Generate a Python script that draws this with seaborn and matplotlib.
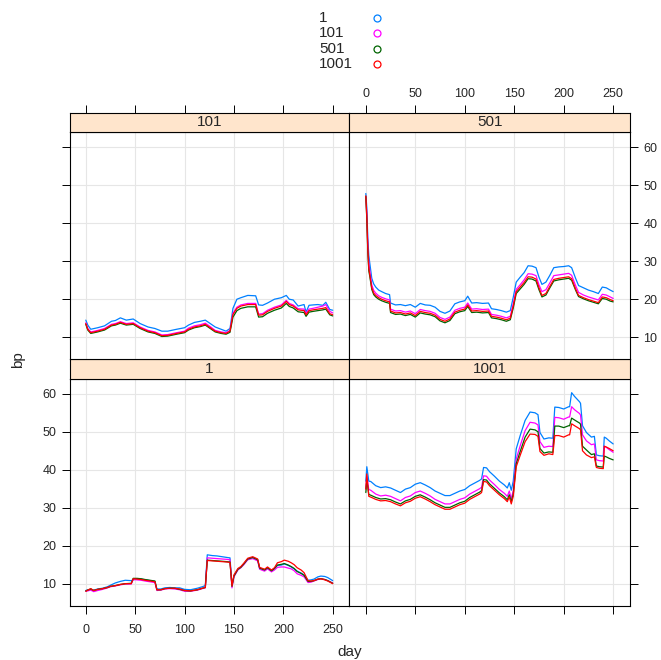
import pandas as pd
import seaborn as sns
import matplotlib.pyplot as plt
from matplotlib.lines import Line2D

# groups and panels
series = ['1', '101', '501', '1001']
colors = ['#0080FF', '#FF00FF', '#006400', '#FF0000']

# panel "1" (bottom left)
days_p1 = [0, 2, 5, 8, 12, 17, 22, 25, 30, 35, 40, 46, 48, 52, 56, 60, 65, 70, 72, 76,
           80, 85, 90, 95, 100, 106, 113, 118, 121, 123, 128, 133, 138, 143, 146, 148, 150, 154, 157, 160,
           164, 169, 174, 176, 181, 184, 188, 191, 194, 198, 201, 205, 208, 211, 214, 218, 221, 225, 228, 231,
           235, 238, 242, 245, 250]
p1_s1 = [8.2, 8.4, 8.5, 8.3, 8.6, 8.8, 9.2, 9.6, 10.2, 10.6, 10.9, 10.8, 11.0, 11.3, 11.2, 11.0, 10.8, 10.6, 8.6, 8.6,
         8.9, 9.0, 8.9, 8.9, 8.5, 8.4, 8.8, 9.2, 9.5, 17.6, 17.4, 17.3, 17.1, 16.9, 16.8, 9.6, 12.0, 13.8, 14.4, 15.2,
         16.5, 16.8, 16.3, 14.1, 13.6, 14.2, 13.4, 14.0, 14.8, 14.9, 15.2, 14.8, 14.4, 13.9, 13.3, 12.8, 12.3, 10.9, 11.0, 11.2,
         11.8, 12.0, 11.9, 11.6, 10.8]
p1_s101 = [8.0, 8.1, 8.3, 7.9, 8.2, 8.5, 8.9, 9.2, 9.4, 9.7, 9.9, 9.9, 11.1, 11.0, 10.9, 10.7, 10.5, 10.3, 8.2, 8.3,
           8.6, 8.7, 8.6, 8.4, 8.0, 8.0, 8.3, 8.7, 8.9, 16.8, 16.7, 16.6, 16.5, 16.4, 16.3, 8.9, 11.8, 13.6, 14.2, 15.0,
           16.3, 16.6, 16.0, 13.8, 13.3, 13.9, 13.1, 13.6, 14.3, 14.4, 14.4, 14.1, 13.9, 13.4, 12.6, 12.2, 11.8, 10.3, 10.4, 10.7,
           11.1, 11.3, 11.1, 10.8, 10.2]
p1_s501 = [8.1, 8.3, 8.6, 8.2, 8.5, 8.7, 9.0, 9.3, 9.5, 9.8, 10.0, 10.1, 11.4, 11.4, 11.3, 11.1, 10.9, 10.7, 8.4, 8.4,
           8.7, 8.8, 8.8, 8.5, 8.2, 8.1, 8.4, 8.8, 9.0, 16.2, 16.1, 16.0, 15.9, 15.8, 15.7, 9.3, 12.0, 13.8, 14.3, 15.2,
           16.5, 16.9, 16.3, 14.1, 13.6, 14.2, 13.4, 14.0, 14.9, 15.1, 15.3, 14.9, 14.5, 14.0, 13.2, 12.7, 12.2, 10.6, 10.6, 10.8,
           11.2, 11.3, 11.1, 10.8, 10.1]
p1_s1001 = [8.0, 8.3, 8.7, 8.2, 8.5, 8.7, 9.0, 9.3, 9.5, 9.8, 10.0, 10.0, 11.3, 11.2, 11.1, 10.9, 10.7, 10.5, 8.4, 8.4,
            8.7, 8.8, 8.8, 8.6, 8.2, 8.1, 8.4, 8.8, 9.0, 16.1, 16.0, 15.9, 15.8, 15.7, 15.6, 9.4, 12.3, 14.0, 14.5, 15.4,
            16.7, 17.1, 16.5, 14.3, 13.8, 14.4, 13.6, 14.2, 15.5, 15.8, 16.2, 15.9, 15.5, 15.0, 14.2, 13.6, 12.9, 10.8, 10.7, 10.8,
            11.2, 11.3, 11.0, 10.7, 10.0]

# panel "1001" (bottom right)
days_p1001 = [0, 1, 3, 5, 10, 15, 20, 25, 30, 35, 40, 45, 50, 55, 60, 65, 70, 75, 80, 85,
              90, 95, 100, 105, 110, 115, 117, 119, 122, 125, 130, 135, 140, 143, 145, 147, 149, 152, 156, 161,
              166, 171, 174, 176, 180, 185, 189, 191, 195, 200, 205, 206, 208, 211, 216, 217, 219, 223, 228, 231,
              233, 236, 240, 241, 243, 246, 250]
p1001_s1 = [37.0, 40.8, 37.0, 36.9, 35.8, 35.3, 35.5, 35.2, 34.6, 34.0, 34.9, 35.3, 36.2, 36.6, 36.0, 35.3, 34.4, 33.8, 33.2, 33.2,
            33.8, 34.4, 34.8, 35.8, 36.5, 37.2, 37.6, 40.6, 40.5, 39.5, 38.3, 37.0, 36.0, 35.2, 36.6, 34.6, 37.0, 45.5, 49.0, 53.0,
            55.2, 55.0, 54.5, 49.8, 48.1, 48.4, 48.3, 56.5, 56.4, 56.0, 56.6, 56.6, 60.3, 59.3, 57.9, 57.5, 51.6, 49.8, 48.6, 48.8,
            43.9, 43.7, 43.6, 48.6, 48.3, 47.6, 46.8]
p1001_s101 = [35.0, 38.3, 34.8, 34.6, 33.6, 33.1, 33.3, 33.0, 32.4, 31.8, 32.7, 33.1, 34.0, 34.4, 33.8, 33.1, 32.2, 31.6, 31.0, 31.0,
              31.6, 32.2, 32.6, 33.6, 34.3, 35.0, 35.4, 38.4, 38.3, 37.3, 36.1, 34.8, 33.8, 33.0, 34.4, 32.4, 34.5, 42.8, 46.3, 50.3,
              52.5, 52.3, 51.8, 47.4, 45.9, 46.2, 46.1, 53.8, 53.7, 53.3, 53.9, 53.9, 56.6, 55.8, 54.8, 54.4, 49.2, 47.6, 46.6, 46.8,
              42.6, 42.4, 42.3, 46.2, 45.9, 45.3, 44.6]
p1001_s501 = [34.0, 37.2, 33.5, 33.3, 32.7, 32.3, 32.4, 32.1, 31.5, 31.0, 31.8, 32.2, 33.0, 33.4, 32.8, 32.1, 31.3, 30.7, 30.1, 30.1,
              30.7, 31.3, 31.7, 32.7, 33.4, 34.1, 34.5, 37.4, 37.3, 36.3, 35.1, 33.9, 32.9, 32.1, 33.4, 31.6, 33.6, 41.6, 44.8, 48.6,
              50.7, 50.5, 50.0, 45.6, 44.4, 44.7, 44.6, 51.5, 51.5, 51.1, 51.6, 51.6, 53.6, 53.1, 52.3, 52.0, 46.2, 45.2, 44.0, 44.2,
              41.0, 40.8, 40.7, 43.6, 43.4, 43.0, 42.6]
p1001_s1001 = [34.9, 38.9, 33.0, 32.8, 32.2, 31.8, 31.9, 31.6, 31.0, 30.5, 31.3, 31.7, 32.5, 32.9, 32.3, 31.6, 30.8, 30.2, 29.6, 29.6,
               30.2, 30.8, 31.2, 32.2, 32.9, 33.6, 34.0, 36.9, 36.8, 35.8, 34.6, 33.4, 32.4, 31.6, 32.9, 31.0, 33.0, 40.8, 43.8, 47.4,
               49.4, 49.3, 48.8, 44.8, 43.8, 44.2, 44.0, 49.0, 49.0, 48.6, 49.2, 49.2, 52.1, 51.6, 50.8, 50.5, 45.0, 43.9, 43.2, 43.4,
               40.6, 40.4, 40.3, 46.2, 46.0, 45.6, 45.0]

# panel "101" (top left)
days_p101 = [0, 2, 5, 12, 19, 26, 30, 35, 41, 48, 55, 63, 70, 77, 83, 92, 100, 104, 110, 116,
             121, 126, 131, 137, 142, 146, 149, 153, 157, 164, 172, 175, 179, 184, 191, 198, 203, 206, 210, 215,
             221, 223, 226, 230, 235, 240, 243, 247, 250]
p101_s1 = [14.5, 13.2, 12.1, 12.5, 13.0, 14.2, 14.4, 15.1, 14.5, 14.8, 13.6, 12.7, 12.3, 11.6, 11.6, 12.1, 12.5, 13.2, 13.9, 14.2,
           14.5, 13.6, 12.7, 12.1, 11.6, 12.3, 17.6, 20.0, 20.4, 21.0, 20.9, 18.5, 18.4, 19.0, 20.0, 20.4, 21.0, 20.0, 19.8, 18.2,
           18.6, 16.6, 18.4, 18.5, 18.6, 18.4, 19.2, 17.3, 17.1]
p101_s101 = [13.8, 12.3, 11.4, 11.8, 12.3, 13.4, 13.6, 14.1, 13.6, 13.8, 12.7, 11.8, 11.4, 10.6, 10.7, 11.2, 11.6, 12.4, 13.0, 13.3,
             13.7, 12.8, 11.8, 11.4, 11.2, 11.8, 16.3, 17.9, 18.5, 18.9, 18.9, 16.1, 16.2, 17.1, 17.9, 18.5, 19.7, 18.9, 18.5, 17.5,
             17.4, 16.3, 17.4, 17.6, 17.9, 18.2, 18.6, 16.8, 16.4]
p101_s501 = [13.4, 11.9, 11.0, 11.4, 11.9, 13.0, 13.2, 13.7, 13.2, 13.4, 12.3, 11.4, 11.0, 10.2, 10.3, 10.8, 11.2, 11.9, 12.5, 12.8,
             13.2, 12.3, 11.4, 11.0, 10.8, 11.3, 15.3, 17.0, 17.6, 18.0, 18.0, 15.3, 15.4, 16.3, 17.1, 17.7, 18.9, 18.1, 17.7, 16.7,
             16.5, 15.5, 16.6, 16.8, 17.0, 17.2, 17.4, 15.9, 15.6]
p101_s1001 = [13.6, 12.1, 11.2, 11.6, 12.1, 13.2, 13.4, 13.9, 13.4, 13.6, 12.5, 11.6, 11.2, 10.4, 10.5, 11.0, 11.4, 12.1, 12.7, 13.0,
              13.4, 12.5, 11.6, 11.2, 11.0, 11.6, 16.0, 17.6, 18.2, 18.6, 18.6, 15.8, 15.9, 16.8, 17.6, 18.2, 19.4, 18.6, 18.2, 17.2,
              17.0, 15.9, 17.0, 17.2, 17.4, 17.6, 17.8, 16.2, 15.9]

# panel "501" (top right)
days_p501 = [0, 1, 2, 3, 4, 6, 8, 10, 13, 16, 20, 24, 25, 30, 35, 40, 45, 50, 55, 60,
             65, 70, 75, 80, 85, 90, 95, 100, 103, 107, 112, 118, 124, 127, 132, 137, 142, 146, 149, 152,
             156, 160, 164, 168, 172, 175, 178, 182, 186, 190, 195, 200, 205, 208, 212, 215, 220, 225, 230, 235,
             239, 243, 247, 250]
p501_s1 = [47.8, 44.0, 36.0, 31.5, 29.5, 25.5, 24.0, 23.2, 22.4, 22.0, 21.5, 21.2, 19.0, 18.5, 18.6, 18.3, 18.6, 17.9, 18.9, 18.5,
           18.4, 17.9, 16.8, 16.3, 16.9, 18.8, 19.3, 19.6, 20.8, 19.0, 19.1, 18.9, 19.0, 17.5, 17.3, 17.0, 16.6, 17.0, 20.5, 24.5,
           25.8, 27.0, 28.8, 28.7, 28.3, 25.8, 23.9, 24.5, 26.3, 28.3, 28.5, 28.6, 28.8, 28.3, 25.5, 23.6, 23.0, 22.4, 22.0, 21.5,
           23.2, 23.0, 22.4, 22.0]
p501_s101 = [47.0, 42.5, 34.5, 29.5, 27.5, 23.8, 22.3, 21.6, 20.9, 20.5, 20.1, 19.8, 17.4, 16.9, 17.0, 16.6, 16.9, 16.2, 17.3, 17.0,
             16.8, 16.3, 15.2, 14.7, 15.3, 17.1, 17.6, 17.9, 19.0, 17.4, 17.5, 17.3, 17.4, 16.0, 15.8, 15.5, 15.1, 15.5, 18.8, 22.6,
             23.8, 25.1, 26.7, 26.6, 26.2, 23.8, 22.0, 22.5, 24.3, 26.2, 26.4, 26.6, 26.8, 26.3, 23.6, 21.8, 21.1, 20.6, 20.2, 19.8,
             21.3, 21.1, 20.6, 20.2]
p501_s501 = [47.0, 41.0, 32.5, 27.5, 26.0, 22.6, 21.2, 20.6, 20.0, 19.6, 19.2, 18.9, 16.5, 16.0, 16.1, 15.7, 16.0, 15.3, 16.4, 16.1,
             15.9, 15.4, 14.3, 13.8, 14.4, 16.2, 16.7, 17.0, 18.1, 16.5, 16.6, 16.4, 16.5, 15.1, 14.9, 14.6, 14.2, 14.6, 17.7, 21.5,
             22.7, 23.9, 25.4, 25.3, 24.8, 22.5, 20.6, 21.1, 23.0, 24.8, 25.1, 25.3, 25.5, 25.0, 22.4, 20.7, 20.1, 19.6, 19.2, 18.8,
             20.2, 20.0, 19.5, 19.3]
p501_s1001 = [47.2, 41.5, 33.0, 28.0, 26.5, 23.0, 21.6, 21.0, 20.4, 20.0, 19.6, 19.3, 16.9, 16.4, 16.5, 16.1, 16.4, 15.7, 16.8, 16.5,
              16.3, 15.8, 14.7, 14.2, 14.8, 16.6, 17.1, 17.4, 18.5, 16.9, 17.0, 16.8, 16.9, 15.5, 15.3, 15.0, 14.6, 15.0, 18.2, 22.0,
              23.2, 24.4, 25.9, 25.8, 25.3, 23.0, 21.0, 21.5, 23.4, 25.2, 25.5, 25.7, 25.9, 25.4, 22.7, 21.0, 20.4, 19.9, 19.5, 19.1,
              20.6, 20.4, 19.9, 19.6]

x_ticks = [0, 50, 100, 150, 200, 250]
y_ticks = [10, 20, 30, 40, 50, 60]


def panel_frame(days, values):
    parts = [pd.DataFrame({'day': days, 'bp': v, 'group': s}) for s, v in zip(series, values)]
    return pd.concat(parts, ignore_index=True)


sns.set_style('white')
plt.rcParams['font.family'] = ['Liberation Sans', 'DejaVu Sans']

W, H = 661, 660
fig = plt.figure(figsize=(W / 100, H / 100), dpi=100)


def box(x0, y0, x1, y1):
    return [x0 / W, 1 - y1 / H, (x1 - x0) / W, (y1 - y0) / H]


cols = [(69.5, 349.5), (349.5, 630.0)]
rows = {'top': ((112.7, 132.3), (132.3, 359.3)), 'bottom': ((359.3, 379.0), (379.0, 605.7))}

# name, data, column, row, which sides carry ticks / labels (lattice alternating axes)
layout = [
    ('1', panel_frame(days_p1, [p1_s1, p1_s101, p1_s501, p1_s1001]), 0, 'bottom',
     dict(bottom=True, labelbottom=True, left=True, labelleft=True), None),
    ('1001', panel_frame(days_p1001, [p1001_s1, p1001_s101, p1001_s501, p1001_s1001]), 1, 'bottom',
     dict(bottom=True, labelbottom=False, right=True, labelright=False), None),
    ('101', panel_frame(days_p101, [p101_s1, p101_s101, p101_s501, p101_s1001]), 0, 'top',
     dict(left=True, labelleft=False), False),
    ('501', panel_frame(days_p501, [p501_s1, p501_s101, p501_s501, p501_s1001]), 1, 'top',
     dict(right=True, labelright=True), True),
]

palette = dict(zip(series, colors))
tick_kw = dict(direction='out', length=5.5, width=0.7, color='black', labelsize=9, pad=4)

for name, df, c, r, sides, top_labels in layout:
    (sy0, sy1), (py0, py1) = rows[r]
    x0, x1 = cols[c]
    ax = fig.add_axes(box(x0, py0, x1, py1))
    sns.lineplot(data=df, x='day', y='bp', hue='group', hue_order=series, palette=palette,
                 linewidth=0.9, legend=False, ax=ax, estimator=None, sort=False)
    ax.set_xlim(-16.5, 267)
    ax.set_ylim(4.2, 63.9)
    ax.set_xticks(x_ticks)
    ax.set_yticks(y_ticks)
    ax.grid(True, color='#e6e6e6', linewidth=0.8)
    ax.set_axisbelow(True)
    ax.set_xlabel('')
    ax.set_ylabel('')
    for sp in ax.spines.values():
        sp.set_color('black')
        sp.set_linewidth(0.8)
    base = dict(top=False, bottom=False, left=False, right=False,
                labeltop=False, labelbottom=False, labelleft=False, labelright=False)
    base.update(sides)
    ax.tick_params(**tick_kw, **base)
    ax.tick_params(axis='x', pad=8)

    # strip
    sax = fig.add_axes(box(x0, sy0, x1, sy1), sharex=ax)
    sax.set_facecolor('#FFE5CC')
    sax.set_ylim(0, 1)
    sax.set_yticks([])
    sax.text(0.5, 0.5, name, transform=sax.transAxes, ha='center', va='center', fontsize=11)
    for sp in sax.spines.values():
        sp.set_color('black')
        sp.set_linewidth(0.8)
    if top_labels is None:
        sax.tick_params(top=False, bottom=False, labelbottom=False, labeltop=False, left=False)
    else:
        sax.tick_params(**tick_kw, top=True, bottom=False, labeltop=top_labels, labelbottom=False, left=False)

# key at the top
key_y = [18, 33.3, 49, 64.3]
for s, col, yk in zip(series, colors, key_y):
    fig.text(319 / W, 1 - yk / H, s, ha='left', va='center', fontsize=11)
    fig.add_artist(Line2D([377 / W], [1 - yk / H], transform=fig.transFigure, marker='o', markersize=5,
                          markerfacecolor='none', markeredgecolor=col, markeredgewidth=0.9, linestyle='none'))

fig.text(350 / W, 1 - 652 / H, 'day', ha='center', va='center', fontsize=11)
fig.text(18 / W, 1 - 360 / H, 'bp', ha='center', va='center', rotation=90, fontsize=11)

fig.savefig('out.png', dpi=100)
